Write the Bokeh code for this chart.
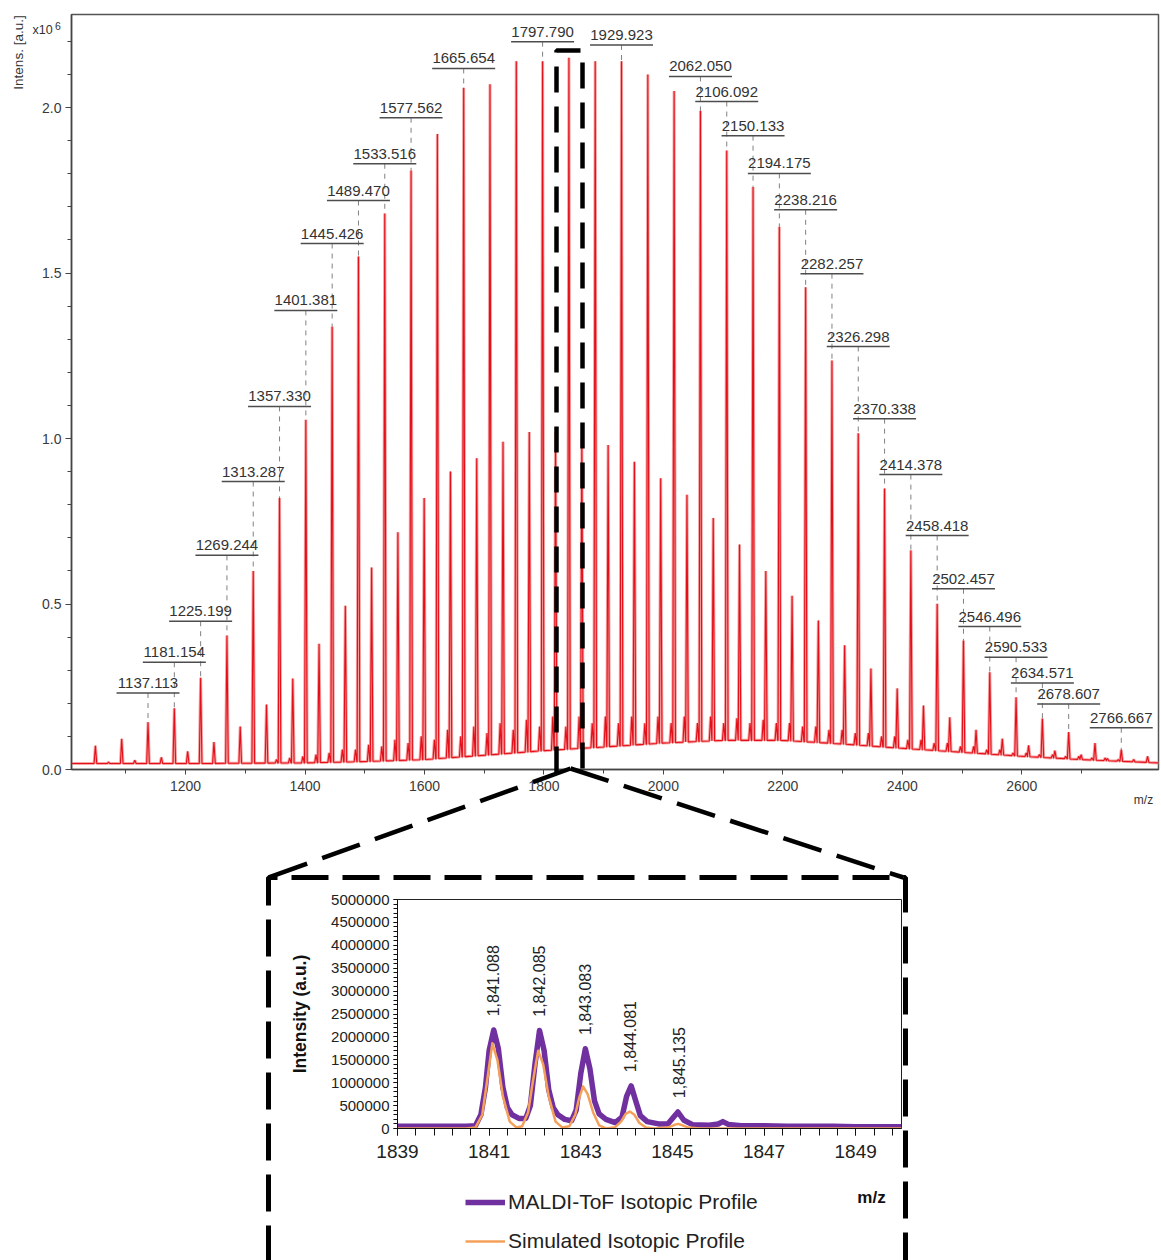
import numpy as np
from bokeh.plotting import figure
from bokeh.layouts import column
from bokeh.models import Range1d, FixedTicker, NumeralTickFormatter, GridBox, Legend, LegendItem
from bokeh.core.properties import value
from bokeh.embed import file_html
from bokeh.resources import INLINE

W, H = 1161, 1260
FONT = "Liberation Sans"

# ---------------- main MALDI spectrum (intensity in units of 1e6 a.u.) ----------------
main_mz = [1049.03, 1093.07, 1137.113, 1181.154, 1225.199, 1269.244, 1313.287, 1357.330,
           1401.381, 1445.426, 1489.470, 1533.516, 1577.562, 1621.61, 1665.654, 1709.70,
           1753.74, 1797.790, 1841.83, 1885.88, 1929.923, 1973.97, 2018.01, 2062.050,
           2106.092, 2150.133, 2194.175, 2238.216, 2282.257, 2326.298, 2370.338, 2414.378,
           2458.418, 2502.457, 2546.496, 2590.533, 2634.571, 2678.607, 2722.64, 2766.667, 2810.70]
main_int = [0.072, 0.093, 0.143, 0.185, 0.277, 0.405, 0.600, 0.820,
            1.057, 1.338, 1.550, 1.680, 1.810, 1.920, 2.060, 2.070,
            2.140, 2.140, 2.150, 2.140, 2.140, 2.100, 2.050, 1.990,
            1.870, 1.760, 1.640, 1.457, 1.236, 1.016, 0.849, 0.662,
            0.501, 0.390, 0.294, 0.218, 0.154, 0.113, 0.080, 0.060, 0.040]

sec_mz = [1071.0, 1115.0, 1159.5, 1203.5, 1247.5, 1291.5, 1335.5, 1379.5, 1423.5, 1467.5,
          1511.5, 1555.5, 1599.5, 1643.5, 1687.5, 1731.5, 1775.5, 1819.5, 1863.5, 1907.5,
          1951.5, 1995.5, 2039.5, 2083.5, 2127.5, 2171.5, 2215.5, 2259.5, 2303.5, 2347.5,
          2391.5, 2435.5, 2479.5, 2523.5, 2567.5, 2611.5, 2655.5, 2699.5, 2743.5, 2787.5]
sec_int = [0.022, 0.028, 0.037, 0.055, 0.083, 0.130, 0.196, 0.275, 0.380, 0.495,
           0.610, 0.717, 0.820, 0.900, 0.940, 0.990, 1.020, 1.020, 1.000, 0.980,
           0.930, 0.880, 0.830, 0.760, 0.680, 0.600, 0.525, 0.450, 0.375, 0.305,
           0.245, 0.193, 0.158, 0.120, 0.093, 0.073, 0.057, 0.045, 0.033, 0.030]

minA_mz = [1352.3, 1396.4, 1440.4, 1484.5, 1528.5, 1572.6, 1616.6, 1660.7, 1704.7, 1748.7,
           1792.8, 1836.8, 1880.9, 1924.9, 1969.0, 2013.0, 2057.1, 2101.1, 2145.1, 2189.2,
           2233.2, 2277.3, 2321.3, 2365.3, 2409.4, 2453.4, 2497.5, 2541.5, 2585.5, 2629.6,
           2673.6, 2717.6, 2761.7]
minA_int = [0.030, 0.040, 0.050, 0.060, 0.070, 0.080, 0.090, 0.100, 0.110, 0.120,
            0.130, 0.130, 0.140, 0.140, 0.140, 0.140, 0.140, 0.140, 0.140, 0.140,
            0.130, 0.120, 0.110, 0.100, 0.090, 0.080, 0.070, 0.060, 0.050, 0.045,
            0.040, 0.035, 0.030]

minB_mz = [1374.4, 1418.4, 1462.5, 1506.5, 1550.6, 1594.6, 1638.7, 1682.7, 1726.7, 1770.8,
           1814.8, 1858.9, 1902.9, 1947.0, 1991.0, 2035.1, 2079.1, 2123.1, 2167.2, 2211.2,
           2255.3, 2299.3, 2343.3, 2387.4, 2431.4, 2475.5, 2519.5, 2563.5, 2607.6, 2651.6,
           2695.6, 2739.7]
minB_int = [0.035, 0.045, 0.060, 0.075, 0.090, 0.100, 0.120, 0.130, 0.140, 0.150,
            0.160, 0.160, 0.160, 0.160, 0.160, 0.160, 0.160, 0.155, 0.150, 0.140,
            0.130, 0.120, 0.110, 0.100, 0.090, 0.080, 0.070, 0.060, 0.050, 0.045,
            0.040, 0.035]

base_mz = [1009, 1200, 1400, 1500, 1600, 1700, 1800, 1900, 2000, 2100, 2200, 2300, 2400,
           2500, 2600, 2700, 2829]
base_int = [0.018, 0.018, 0.020, 0.024, 0.030, 0.043, 0.057, 0.068, 0.080, 0.088, 0.088,
            0.077, 0.064, 0.052, 0.040, 0.030, 0.020]

label_mz = [1137.113, 1181.154, 1225.199, 1269.244, 1313.287, 1357.330, 1401.381, 1445.426,
            1489.470, 1533.516, 1577.562, 1665.654, 1797.790, 1929.923, 2062.050, 2106.092,
            2150.133, 2194.175, 2238.216, 2282.257, 2326.298, 2370.338, 2414.378, 2458.418,
            2502.457, 2546.496, 2590.533, 2634.571, 2678.607, 2766.667]
label_y = [0.231, 0.324, 0.448, 0.647, 0.870, 1.097, 1.387, 1.589,
           1.719, 1.830, 1.969, 2.118, 2.199, 2.189, 2.094, 2.018,
           1.915, 1.801, 1.691, 1.498, 1.278, 1.060, 0.891, 0.707,
           0.546, 0.432, 0.339, 0.261, 0.198, 0.126]

main_xticks = [1200, 1400, 1600, 1800, 2000, 2200, 2400, 2600]
main_xminor = [1100, 1300, 1500, 1700, 1900, 2100, 2300, 2500, 2700]
main_yticks = [0.0, 0.5, 1.0, 1.5, 2.0]
main_yminor = [0.1, 0.2, 0.3, 0.4, 0.6, 0.7, 0.8, 0.9, 1.1, 1.2, 1.3, 1.4, 1.6, 1.7, 1.8, 1.9, 2.1, 2.2]

# ---------------- inset: isotopic profile (intensity in units of 1e6 a.u.) ----------------
maldi_mz = [1839.0, 1839.5, 1840.0, 1840.5, 1840.7, 1840.82, 1840.92, 1841.0, 1841.1, 1841.2,
            1841.3, 1841.4, 1841.5, 1841.65, 1841.8, 1841.9, 1842.0, 1842.1, 1842.2, 1842.3,
            1842.4, 1842.5, 1842.65, 1842.8, 1842.9, 1843.0, 1843.1, 1843.2, 1843.3, 1843.4,
            1843.55, 1843.75, 1843.9, 1844.0, 1844.1, 1844.2, 1844.3, 1844.45, 1844.7, 1844.9,
            1845.0, 1845.12, 1845.25, 1845.45, 1845.8, 1846.0, 1846.1, 1846.22, 1846.5, 1847.0,
            1847.5, 1848.0, 1848.5, 1849.0, 1849.5, 1850.0]
maldi_int = [0.05, 0.05, 0.05, 0.05, 0.06, 0.30, 0.90, 1.70, 2.15, 1.75,
             0.90, 0.45, 0.30, 0.22, 0.22, 0.50, 1.40, 2.14, 1.70, 0.85,
             0.45, 0.30, 0.20, 0.17, 0.40, 1.20, 1.74, 1.30, 0.60, 0.32,
             0.20, 0.13, 0.25, 0.70, 0.93, 0.60, 0.28, 0.15, 0.10, 0.10,
             0.22, 0.36, 0.18, 0.08, 0.07, 0.10, 0.15, 0.09, 0.06, 0.06,
             0.05, 0.05, 0.05, 0.04, 0.04, 0.04]

sim_mz = [1839.0, 1840.5, 1840.7, 1840.85, 1840.95, 1841.07, 1841.18, 1841.3, 1841.45, 1841.6,
          1841.72, 1841.85, 1841.95, 1842.07, 1842.18, 1842.3, 1842.45, 1842.6, 1842.75, 1842.88,
          1842.96, 1843.05, 1843.15, 1843.27, 1843.4, 1843.55, 1843.75, 1843.88, 1843.98, 1844.07,
          1844.17, 1844.28, 1844.42, 1844.6, 1844.9, 1845.02, 1845.12, 1845.22, 1845.35, 1845.6,
          1846.0, 1847.0, 1848.0, 1849.0, 1850.0]
sim_int = [0.0, 0.0, 0.02, 0.30, 1.00, 1.86, 1.50, 0.70, 0.15, 0.02,
           0.05, 0.35, 1.00, 1.70, 1.40, 0.70, 0.15, 0.02, 0.05, 0.30,
           0.65, 0.92, 0.75, 0.35, 0.07, 0.00, 0.03, 0.15, 0.32, 0.37,
           0.30, 0.12, 0.02, 0.00, 0.02, 0.07, 0.10, 0.07, 0.02, 0.00,
           0.0, 0.0, 0.0, 0.0, 0.0]

iso_label_mz = [1841.088, 1842.085, 1843.083, 1844.081, 1845.135]
iso_label_int = [2.15, 2.14, 1.74, 0.93, 0.36]

series_names = ["MALDI-ToF Isotopic Profile", "Simulated Isotopic Profile"]
series_colors = ["#7030a0", "#f4a05a"]
series_widths = [5.5, 2.5]

ins_xticks = [1839, 1841, 1843, 1845, 1847, 1849]
ins_yticks = [0, 500000, 1000000, 1500000, 2000000, 2500000, 3000000, 3500000, 4000000, 4500000, 5000000]

# ======================= main figure =======================
main = figure(width=W, height=H, x_range=Range1d(1009, 2829), y_range=Range1d(0, 2.281),
              min_border_left=71, min_border_right=3, min_border_top=14, min_border_bottom=H - 769,
              toolbar_location=None, output_backend="svg")
main.background_fill_color = None
main.border_fill_color = None
main.outline_line_color = "#555555"
main.outline_line_width = 1.5
main.grid.visible = False

peaks = sorted(zip(main_mz + sec_mz + minA_mz + minB_mz, main_int + sec_int + minA_int + minB_int))
HW = 2.2
spec_x, spec_y = [base_mz[0]], [base_int[0]]
for m, h in peaks:
    spec_x += [m - HW, m, m + HW]
    spec_y += [float(np.interp(m - HW, base_mz, base_int)), h, float(np.interp(m + HW, base_mz, base_int))]
spec_x.append(base_mz[-1])
spec_y.append(base_int[-1])

main.line(spec_x, spec_y, line_color="#f6a3a3", line_width=3.0)
main.line(spec_x, spec_y, line_color="#e3101a", line_width=1.1)

top_of = dict(zip(main_mz, main_int))
lab_top = [top_of[m] for m in label_mz]
main.segment(x0=label_mz, y0=label_y, x1=label_mz, y1=lab_top, line_color="#808080",
             line_width=1, line_dash="5 5")
main.rect(x=label_mz, y=label_y, width=63, height=1.5, width_units="screen", height_units="screen",
          fill_color="#4d4d4d", line_color=None)
main.text(x=label_mz, y=[v + 0.015 for v in label_y], text=[f"{m:.3f}" for m in label_mz],
          text_font=value(FONT), text_font_size="15px", text_color="#333333",
          text_align="center", text_baseline="bottom")

xa = main.xaxis[0]
xa.ticker = FixedTicker(ticks=main_xticks, minor_ticks=main_xminor)
ya = main.yaxis[0]
ya.ticker = FixedTicker(ticks=main_yticks, minor_ticks=main_yminor)
ya.formatter = NumeralTickFormatter(format="0.0")
for ax in (xa, ya):
    ax.axis_line_color = "#444444"
    ax.axis_line_width = 1.5
    ax.major_tick_line_color = "#444444"
    ax.minor_tick_line_color = "#444444"
    ax.major_tick_in = 0
    ax.minor_tick_in = 0
    ax.major_label_text_font = FONT
    ax.major_label_text_font_size = "14px"
    ax.major_label_text_color = "#3a3a3a"
xa.major_tick_out = 5
xa.minor_tick_out = 4
xa.major_label_standoff = 6
ya.major_tick_out = 6
ya.minor_tick_out = 4
ya.major_label_standoff = 4

# ======================= inset figure =======================
ins = figure(width=W, height=H, x_range=Range1d(1839, 1850), y_range=Range1d(0, 5000000),
             min_border_left=397, min_border_right=W - 901, min_border_top=899, min_border_bottom=H - 1128,
             toolbar_location=None, output_backend="svg")
ins.background_fill_color = None
ins.border_fill_color = None
ins.outline_line_color = "#222222"
ins.outline_line_width = 1
ins.grid.visible = False

ins.line(maldi_mz, [v * 1e6 for v in maldi_int], line_color=series_colors[0], line_width=series_widths[0],
         line_join="round")
ins.line(sim_mz, [v * 1e6 for v in sim_int], line_color=series_colors[1], line_width=series_widths[1],
         line_join="round")
ins.text(x=iso_label_mz, y=[(v + 0.30) * 1e6 for v in iso_label_int],
         text=[f"{m:,.3f}" for m in iso_label_mz], angle=np.pi / 2,
         text_font=value(FONT), text_font_size="16px", text_color="#222222",
         text_align="left", text_baseline="middle")

ixa = ins.xaxis[0]
ixa.ticker = FixedTicker(ticks=ins_xticks, minor_ticks=[round(1839 + 0.4 * k, 2) for k in range(28)])
iya = ins.yaxis[0]
iya.ticker = FixedTicker(ticks=ins_yticks, minor_ticks=list(range(0, 5000001, 100000)))
iya.formatter = NumeralTickFormatter(format="0")
for ax in (ixa, iya):
    ax.axis_line_color = "#111111"
    ax.major_tick_line_color = "#111111"
    ax.minor_tick_line_color = "#111111"
    ax.major_tick_in = 0
    ax.minor_tick_in = 0
    ax.major_label_text_font = FONT
    ax.major_label_text_color = "#222222"
ixa.major_tick_out = 7
ixa.minor_tick_out = 7
ixa.major_label_text_font_size = "19px"
ixa.major_label_standoff = 9
iya.major_tick_out = 4
iya.minor_tick_out = 4
iya.major_label_text_font_size = "15px"
iya.major_label_standoff = 4
iya.axis_label = "Intensity (a.u.)"
iya.axis_label_text_font = FONT
iya.axis_label_text_font_style = "bold"
iya.axis_label_text_font_size = "17.5px"
iya.axis_label_text_color = "#111111"
iya.axis_label_standoff = 18

# ======================= decorations & legend (page pixel coordinates) =======================
deco = figure(width=W, height=H, x_range=Range1d(0, W), y_range=Range1d(H, 0), min_border=0,
              toolbar_location=None, output_backend="svg", x_axis_location=None, y_axis_location=None)
deco.background_fill_color = None
deco.border_fill_color = None
deco.outline_line_color = None
deco.grid.visible = False

deco.line([556, 556, 582, 582], [772, 50, 50, 772], line_color="black", line_width=4.5, line_dash="26 14")
deco.line([570, 268], [768, 877], line_color="black", line_width=4.5, line_dash="40 16")
deco.line([570, 903], [768, 877], line_color="black", line_width=4.5, line_dash="40 16")
deco.line([268, 268, 905, 905], [1262, 877, 877, 1262], line_color="black", line_width=5, line_dash="37 14")

deco.text(x=[18], y=[52], text=["Intens. [a.u.]"], angle=np.pi / 2, text_font=value(FONT),
          text_font_size="13.5px", text_color="#333333", text_align="center", text_baseline="middle")
deco.text(x=[32], y=[29], text=["x10"], text_font=value(FONT), text_font_size="12.5px",
          text_color="#333333", text_align="left", text_baseline="alphabetic")
deco.text(x=[54.5], y=[25], text=["6"], text_font=value(FONT), text_font_size="10.5px",
          text_color="#333333", text_align="left", text_baseline="alphabetic")
deco.text(x=[1143], y=[799], text=["m/z"], text_font=value(FONT), text_font_size="12px",
          text_color="#333333", text_align="center", text_baseline="middle")
deco.text(x=[871], y=[1197], text=["m/z"], text_font=value(FONT), text_font_size="17px",
          text_font_style="bold", text_color="#111111", text_align="center", text_baseline="middle")

# legend swatches: renderers placed off-page so only the legend glyphs show
lg1 = deco.line([-50, -40], [-50, -40], line_color=series_colors[0], line_width=series_widths[0])
lg2 = deco.line([-50, -40], [-50, -40], line_color=series_colors[1], line_width=series_widths[1])
legend = Legend(items=[LegendItem(label=series_names[0], renderers=[lg1]),
                       LegendItem(label=series_names[1], renderers=[lg2])],
                location=(465, 7.5), orientation="vertical", padding=0, margin=0, spacing=15,
                glyph_width=40, glyph_height=20, label_height=20, label_standoff=3,
                border_line_color=None, background_fill_alpha=0,
                label_text_font=FONT, label_text_font_size="21px", label_text_color="#222222")
deco.add_layout(legend)

layout = GridBox(children=[(column(main), 0, 0), (column(ins), 0, 0), (column(deco), 0, 0)])
open("out.html", "w").write(file_html(layout, INLINE, title="MALDI-ToF spectrum"))
